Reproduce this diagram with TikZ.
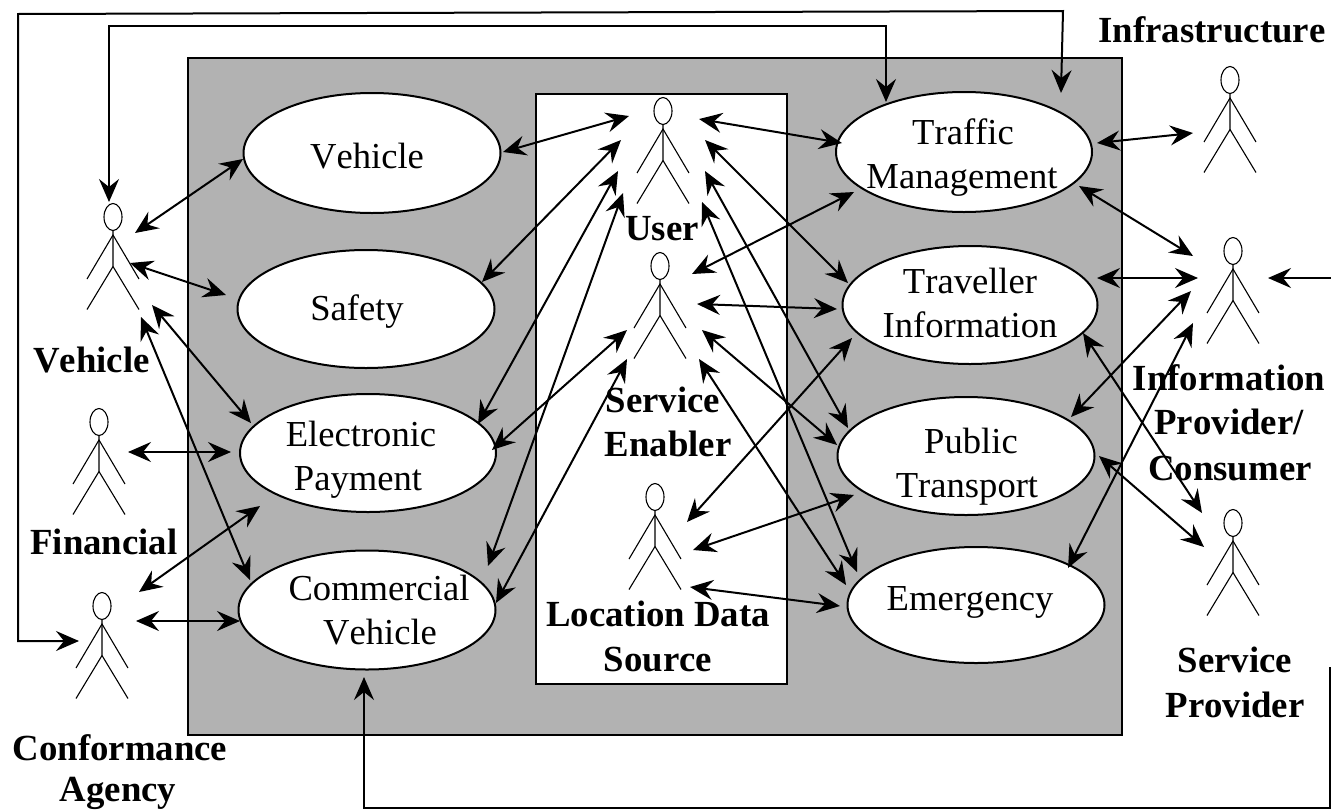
\documentclass[tikz,border=0pt]{standalone}
\usepackage{fontspec}
\setmainfont[Kerning=Off]{Liberation Serif}
\usetikzlibrary{arrows.meta,shapes.geometric}
\tikzset{
  tipA/.tip={Stealth[length=23pt,width=20pt,inset=8pt]},
  conn/.style={draw=black,line width=2pt,line join=miter},
  both/.style={conn,{tipA}-{tipA}},
  usecase/.style={shape=ellipse,draw=black,fill=white,line width=2pt,inner sep=0pt,outer sep=0pt},
  uctext/.style={anchor=base,inner sep=0pt,font=\fontsize{36.6}{44}\selectfont},
  rolelabel/.style={anchor=base,inner sep=0pt,font=\fontsize{36.8}{44}\selectfont\bfseries},
  head/.style={shape=ellipse,draw=black,fill=white,line width=1.1pt,minimum width=18pt,minimum height=27pt,inner sep=0pt,outer sep=0pt},
  limb/.style={draw=black,line width=1.1pt},
}
\newcommand{\actorfig}[3]{%
  \node[head] (#1) at (#2,#3) {};
  \draw[limb] (#1.south) -- ++(0,36) coordinate (#1hip) -- ++(-26,43);
  \draw[limb] (#1hip) -- ++(26,43);
  \draw[limb] (#2-26,#3+62) -- (#2,#3+18) -- (#2+26,#3+62);
}
\begin{document}
\begin{tikzpicture}[x=1pt,y=-1pt]
\useasboundingbox (0,0) rectangle (1331,809);
\clip (0,0) rectangle (1331,809);
% panels
\node[draw=black,fill=black!30,line width=2pt,minimum width=934pt,minimum height=677pt,inner sep=0pt,outer sep=0pt] (system) at (655,396.5) {};
\node[draw=black,fill=white,line width=2pt,minimum width=251pt,minimum height=590pt,inner sep=0pt,outer sep=0pt] (users) at (661.5,389) {};
% use cases
\node[usecase,minimum width=257pt,minimum height=120pt] (uVeh) at (372,153) {};
\node[usecase,minimum width=257pt,minimum height=118pt] (uSaf) at (366,309) {};
\node[usecase,minimum width=256pt,minimum height=118pt] (uPay) at (368,453) {};
\node[usecase,minimum width=257pt,minimum height=119pt] (uCom) at (367,610) {};
\node[usecase,minimum width=256pt,minimum height=120pt] (uTra) at (964,152) {};
\node[usecase,minimum width=255pt,minimum height=118pt] (uTrv) at (970,305) {};
\node[usecase,minimum width=257pt,minimum height=118pt] (uPub) at (966,456) {};
\node[usecase,minimum width=257pt,minimum height=116pt] (uEme) at (976,605) {};
% actors
\actorfig{aInfra}{1230}{80}
\actorfig{aInfo}{1233}{251}
\actorfig{aSP}{1233}{523}
\actorfig{aUser}{663}{111}
\actorfig{aEn}{660}{266}
\actorfig{aLoc}{655}{497}
\actorfig{aVeh}{113}{217}
\actorfig{aFin}{99}{422}
\actorfig{aConf}{102}{606}
% free corners of the long connectors
\coordinate (o1) at (18,641);
\coordinate (o2) at (18,14);
\coordinate (o3) at (1063,11);
\coordinate (oEnd) at (1061,93);
\coordinate (m1) at (109,26);
\coordinate (m2) at (886,26);
\coordinate (b1) at (364,808);
\coordinate (b2) at (1330,808);
\coordinate (bEnd) at (1330,667);
\coordinate (rIn) at (1331,278);
% long connectors
\draw[conn,{tipA}-{tipA}] ([shift={(-23,35)}]aConf.center) -- (o1) -- (o2) -- (o3) -- (oEnd);
\draw[conn,{tipA}-{tipA}] ([shift={(-4,-15)}]aVeh.center) -- (m1) -- (m2) -- ([shift={(-78,-50)}]uTra.center);
\draw[conn,{tipA}-] ([shift={(-3,67)}]uCom.center) -- (b1) -- (b2) -- (bEnd);
\draw[conn,-{tipA}] (rIn) -- ([shift={(35,27)}]aInfo.center);
% left side
\draw[both] ([shift={(22,16)}]aVeh.center) -- ([shift={(-129,6)}]uVeh.center);
\draw[both] ([shift={(17,46)}]aVeh.center) -- ([shift={(-140,-14)}]uSaf.center);
\draw[both] ([shift={(39,88)}]aVeh.center) -- ([shift={(-117,-30)}]uPay.center);
\draw[both] ([shift={(28,100)}]aVeh.center) -- ([shift={(-117,-30)}]uCom.center);
\draw[both] ([shift={(29,30)}]aFin.center) -- ([shift={(-137,-1)}]uPay.center);
\draw[both] ([shift={(37,-14)}]aConf.center) -- ([shift={(-108,53)}]uPay.center);
\draw[both] ([shift={(34,15)}]aConf.center) -- ([shift={(-127,11)}]uCom.center);
% user and enabler, left
\draw[both] ([shift={(131,-1)}]uVeh.center) -- ([shift={(-34,5)}]aUser.center);
\draw[both] ([shift={(116,-27)}]uSaf.center) -- ([shift={(-42,29)}]aUser.center);
\draw[both] ([shift={(110,-29)}]uPay.center) -- ([shift={(-45,60)}]aUser.center);
\draw[both] ([shift={(121,-44)}]uCom.center) -- ([shift={(-40,82)}]aUser.center);
\draw[both] ([shift={(124,-3)}]uPay.center) -- ([shift={(-33,64)}]aEn.center);
\draw[both] ([shift={(129,-7)}]uCom.center) -- ([shift={(-33,93)}]aEn.center);
% user, right
\draw[both] ([shift={(36,8)}]aUser.center) -- ([shift={(-122,-9)}]uTra.center);
\draw[both] ([shift={(42,29)}]aUser.center) -- ([shift={(-122,-22)}]uTrv.center);
\draw[both] ([shift={(42,60)}]aUser.center) -- ([shift={(-118,-28)}]uPub.center);
\draw[both] ([shift={(39,91)}]aUser.center) -- ([shift={(-119,-33)}]uEme.center);
% enabler, right
\draw[both] ([shift={(32,8)}]aEn.center) -- ([shift={(-110,40)}]uTra.center);
\draw[both] ([shift={(37,38)}]aEn.center) -- ([shift={(-133,4)}]uTrv.center);
\draw[both] ([shift={(42,64)}]aEn.center) -- ([shift={(-129,-11)}]uPub.center);
\draw[both] ([shift={(39,93)}]aEn.center) -- ([shift={(-130,-20)}]uEme.center);
% location
\draw[both] ([shift={(32,25)}]aLoc.center) -- ([shift={(-118,33)}]uTrv.center);
\draw[both] ([shift={(38,53)}]aLoc.center) -- ([shift={(-112,39)}]uPub.center);
\draw[both] ([shift={(35,90)}]aLoc.center) -- ([shift={(-136,1)}]uEme.center);
% right side
\draw[both] ([shift={(133,-9)}]uTra.center) -- ([shift={(-37,53)}]aInfra.center);
\draw[both] ([shift={(115,34)}]uTra.center) -- ([shift={(-40,5)}]aInfo.center);
\draw[both] ([shift={(127,-27)}]uTrv.center) -- ([shift={(-35,27)}]aInfo.center);
\draw[both] ([shift={(105,-39)}]uPub.center) -- ([shift={(-42,40)}]aInfo.center);
\draw[both] ([shift={(92,-37)}]uEme.center) -- ([shift={(-40,72)}]aInfo.center);
\draw[both] ([shift={(113,28)}]uTrv.center) -- ([shift={(-31,-10)}]aSP.center);
\draw[both] ([shift={(133,0)}]uPub.center) -- ([shift={(-29,24)}]aSP.center);
% use case texts
\node[uctext] (tVeh) at (367,168) {Vehicle};
\node[uctext] (tSaf) at (357,320) {Safety};
\node[uctext] (tPay1) at (361,446) {Electronic};
\node[uctext] (tPay2) at (358,490) {Payment};
\node[uctext] (tCom1) at (379,600) {Commercial};
\node[uctext] (tCom2) at (380,644) {Vehicle};
\node[uctext] (tTra1) at (963,144) {Traffic};
\node[uctext] (tTra2) at (962,188) {Management};
\node[uctext] (tTrv1) at (970,293) {Traveller};
\node[uctext] (tTrv2) at (970,337) {Information};
\node[uctext] (tPub1) at (971,453) {Public};
\node[uctext] (tPub2) at (967,497) {Transport};
\node[uctext] (tEme) at (970,610) {Emergency};
% role labels
\node[rolelabel] (lInfra) at (1212,42) {Infrastructure};
\node[rolelabel] (lVeh) at (91.5,372) {Vehicle};
\node[rolelabel] (lFin) at (104,554) {Financial};
\node[rolelabel] (lConf1) at (120,760) {Conformance};
\node[rolelabel] (lConf2) at (118,801) {Agency};
\node[rolelabel] (lUser) at (662,240) {User};
\node[rolelabel] (lEn1) at (663,412) {Service};
\node[rolelabel] (lEn2) at (668,456) {Enabler};
\node[rolelabel] (lLoc1) at (658,626) {Location Data};
\node[rolelabel] (lLoc2) at (658,671) {Source};
\node[rolelabel] (lInfo1) at (1229,390) {Information};
\node[rolelabel] (lInfo2) at (1229,434) {Provider/};
\node[rolelabel] (lInfo3) at (1230,480) {Consumer};
\node[rolelabel] (lSP1) at (1235,672) {Service};
\node[rolelabel] (lSP2) at (1235,717) {Provider};
\end{tikzpicture}
\end{document}
